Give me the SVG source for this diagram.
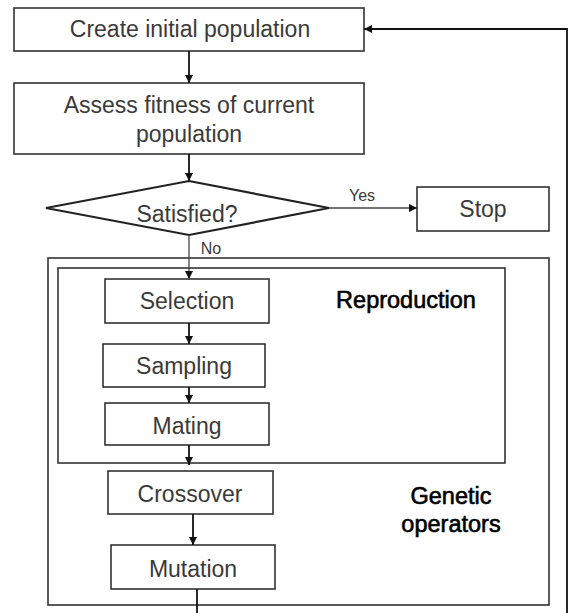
<svg xmlns="http://www.w3.org/2000/svg" width="570" height="613" viewBox="0 0 570 613">
<style>
.box{fill:#fff;stroke:#333;stroke-width:1.6}
.frame{fill:none;stroke:#333;stroke-width:1.6}
.dia{fill:#fff;stroke:#222;stroke-width:2.2}
.t{font-family:"Liberation Sans",Arial,sans-serif;font-size:23px;fill:#3a3a3a;text-anchor:middle}
.lbl{font-family:"Liberation Sans",Arial,sans-serif;font-size:16px;fill:#3a3a3a;text-anchor:middle}
.b{font-family:"Liberation Sans",Arial,sans-serif;font-size:23.5px;fill:#000;stroke:#000;stroke-width:0.6;text-anchor:middle}
.c{fill:none;stroke:#111;stroke-width:1.8}
.cl{fill:none;stroke:#444;stroke-width:1.3}
</style>
<defs>
<marker id="ah" viewBox="0 0 10 10" refX="10" refY="5" markerWidth="8" markerHeight="8" markerUnits="userSpaceOnUse" orient="auto">
<path d="M0,0 L10,5 L0,10 z" fill="#111"/>
</marker>
</defs>
<g id="frame-genetic">
<rect class="frame" x="48" y="258" width="501" height="347"/>
<text class="b" x="451" y="504">Genetic</text>
<text class="b" x="451" y="532">operators</text>
</g>
<g id="frame-reproduction">
<rect class="frame" x="58" y="268" width="447" height="195"/>
<text class="b" x="406" y="308">Reproduction</text>
</g>
<g id="create">
<rect class="box" x="14" y="8" width="350" height="43"/>
<text class="t" x="190" y="37">Create initial population</text>
</g>
<g id="assess">
<rect class="box" x="14" y="83" width="350" height="71"/>
<text class="t" x="189" y="113">Assess fitness of current</text>
<text class="t" x="189" y="142">population</text>
</g>
<g id="satisfied">
<polygon class="dia" points="189,181 329,208 189,235 46,208"/>
<text class="t" x="187" y="222">Satisfied?</text>
</g>
<g id="stop">
<rect class="box" x="417" y="187" width="132" height="44"/>
<text class="t" x="483" y="217">Stop</text>
</g>
<g id="selection">
<rect class="box" x="105" y="279" width="164" height="44"/>
<text class="t" x="187" y="309">Selection</text>
</g>
<g id="sampling">
<rect class="box" x="103" y="344" width="162" height="43"/>
<text class="t" x="184" y="374">Sampling</text>
</g>
<g id="mating">
<rect class="box" x="105" y="403" width="164" height="42"/>
<text class="t" x="187" y="434">Mating</text>
</g>
<g id="crossover">
<rect class="box" x="108" y="471" width="165" height="43"/>
<text class="t" x="190" y="502">Crossover</text>
</g>
<g id="mutation">
<rect class="box" x="111" y="545" width="164" height="44"/>
<text class="t" x="193" y="577">Mutation</text>
</g>
<g id="connectors">
<line class="c" x1="189" y1="51" x2="189" y2="83" marker-end="url(#ah)"/>
<line class="c" x1="189" y1="154" x2="189" y2="181" marker-end="url(#ah)"/>
<line class="cl" x1="329" y1="208" x2="417" y2="208" marker-end="url(#ah)"/>
<text class="lbl" x="362" y="201">Yes</text>
<line class="cl" x1="189" y1="235" x2="189" y2="279" marker-end="url(#ah)"/>
<text class="lbl" x="211" y="254">No</text>
<line class="c" x1="189" y1="323" x2="189" y2="344" marker-end="url(#ah)"/>
<line class="c" x1="189" y1="387" x2="189" y2="403" marker-end="url(#ah)"/>
<line class="c" x1="189" y1="445" x2="189" y2="465" marker-end="url(#ah)"/>
<line class="c" x1="193" y1="514" x2="193" y2="545" marker-end="url(#ah)"/>
<line class="c" x1="197" y1="589" x2="197" y2="613"/>
<polyline class="c" points="567,613 567,29 364,29" marker-end="url(#ah)"/>
</g>
</svg>
